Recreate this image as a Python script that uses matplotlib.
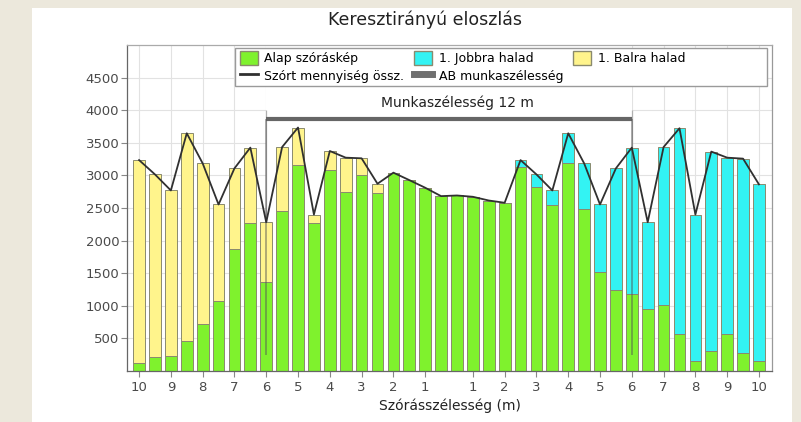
import matplotlib
matplotlib.use("Agg")
import matplotlib.pyplot as plt
from matplotlib.patches import Rectangle, Patch
from matplotlib.lines import Line2D

plt.rcParams['font.family'] = ['DejaVu Sans']

# ---- data ----
tick_labels = ['10', '9', '8', '7', '6', '5', '4', '3', '2', '1',
               '1', '2', '3', '4', '5', '6', '7', '8', '9', '10']
tick_bar_index = [0, 2, 4, 6, 8, 10, 12, 14, 16, 18,
                  21, 23, 25, 27, 29, 31, 33, 35, 37, 39]

alap = [118, 211, 235, 466, 718, 1066, 1872, 2272, 1365, 2451,
        3154, 2272, 3077, 2743, 3000, 2723, 3042, 2928, 2811, 2682,
        2692, 2672, 2615, 2580, 3134, 2820, 2543, 3185, 2488, 1512,
        1246, 1185, 949, 1015, 565, 158, 308, 565, 282, 158]
jobbra = [0, 0, 0, 0, 0, 0, 0, 0, 0, 0,
          0, 0, 0, 0, 0, 0, 0, 0, 0, 0,
          0, 0, 0, 0, 101, 195, 226, 461, 697, 1042,
          1862, 2241, 1333, 2420, 3158, 2242, 3057, 2707, 2975, 2704]
balra = [3117, 2804, 2534, 3180, 2467, 1488, 1236, 1154, 917, 984,
         580, 128, 297, 529, 262, 149, 0, 0, 0, 0,
         0, 0, 0, 0, 0, 0, 0, 0, 0, 0,
         0, 0, 0, 0, 0, 0, 0, 0, 0, 0]
ossz = [3235, 3015, 2769, 3646, 3185, 2554, 3108, 3426, 2282, 3435,
        3734, 2400, 3374, 3272, 3262, 2872, 3042, 2928, 2811, 2682,
        2692, 2672, 2615, 2580, 3235, 3015, 2769, 3646, 3185, 2554,
        3108, 3426, 2282, 3435, 3723, 2400, 3365, 3272, 3257, 2862]
y_ticks = [500, 1000, 1500, 2000, 2500, 3000, 3500, 4000, 4500]
ab_start, ab_end = 8, 31
ab_level = 3862

W, H = 801, 422
fig = plt.figure(figsize=(W / 100, H / 100), dpi=100)
fig.patch.set_facecolor('#ece8dc')
fig.add_artist(Rectangle((32 / W, 0), (792 - 32) / W, (H - 8) / H,
                         transform=fig.transFigure, facecolor='white',
                         edgecolor='none', zorder=0))

ax = fig.add_axes([127 / W, 1 - 371 / H, (772 - 127) / W, (371 - 45) / H])
ax.set_facecolor('white')

x = list(range(len(alap)))
c_green = '#7ff22d'
c_cyan = '#33f3f3'
c_yellow = '#fff48c'
edge = '#8a8a6e'
bw = 0.74

ax.set_axisbelow(True)
ax.grid(True, color='#e2e2e2', lw=0.8)
ax.axvspan(ab_start, ab_end, color='white', zorder=0.6, lw=0)
ax.vlines([ab_start, ab_end], 0, 4000, colors='#b0b0b0', lw=0.9, zorder=0.7)

ax.bar(x, alap, width=bw, color=c_green, edgecolor=edge, lw=0.7, zorder=2)
ax.bar(x, jobbra, width=bw, bottom=alap, color=c_cyan, edgecolor=edge, lw=0.7, zorder=2)
ax.bar(x, balra, width=bw, bottom=alap, color=c_yellow, edgecolor=edge, lw=0.7, zorder=2)
ax.plot(x, ossz, color='#303030', lw=1.3, zorder=4)

ax.hlines(ab_level, ab_start, ab_end, colors='#666666', lw=3, zorder=3)
ax.vlines([ab_start, ab_end], 250, ab_level, colors='#555555', lw=1.2,
          alpha=0.55, zorder=3)
ax.text((ab_start + ab_end) / 2 + 0.5, 4120, 'Munkaszélesség 12 m',
        ha='center', va='center', fontsize=10, color='#222222')

ax.set_xlim(-0.76, 39.82)
ax.set_ylim(0, 5000)
ax.set_xticks(tick_bar_index)
ax.set_xticklabels(tick_labels)
ax.set_yticks(y_ticks)
ax.tick_params(axis='both', colors='#888888', labelcolor='#4a4a4a',
               labelsize=9.5, length=4, width=0.8)
ax.tick_params(axis='y', pad=1.5)
for s in ax.spines.values():
    s.set_color('#666666')
    s.set_linewidth(0.9)
ax.spines['top'].set_color('#aaaaaa')
ax.spines['right'].set_color('#999999')

ax.set_xlabel('Szórásszélesség (m)', fontsize=10, labelpad=3, color='#222222')
fig.text(425 / W, 1 - 20 / H, 'Keresztirányú eloszlás', ha='center',
         va='center', fontsize=12.5, color='#222222')

# legend frame (drawn separately so the columns keep their natural spacing)
ax.add_patch(Rectangle((235 / W, 1 - 86 / H), (767 - 235) / W, (86 - 47.5) / H,
                       transform=fig.transFigure, facecolor='white',
                       edgecolor='#9a9a9a', lw=1.0, zorder=9, clip_on=False))
handles = [Patch(facecolor=c_green, edgecolor=edge, label='Alap szóráskép'),
           Line2D([], [], color='#303030', lw=2, label='Szórt mennyiség össz.'),
           Patch(facecolor=c_cyan, edgecolor=edge, label='1. Jobbra halad'),
           Line2D([], [], color='#707070', lw=5, label='AB munkaszélesség'),
           Patch(facecolor=c_yellow, edgecolor=edge, label='1. Balra halad')]
leg = ax.legend(handles=handles, ncol=3, loc='upper left',
                bbox_to_anchor=(237 / W, 1 - 48.5 / H),
                bbox_transform=fig.transFigure, borderaxespad=0, fontsize=9,
                frameon=False, handlelength=1.45, handleheight=1.3,
                handletextpad=0.55, labelspacing=0.3, borderpad=0.2,
                columnspacing=0.75)
leg.set_zorder(10)

fig.savefig('out.png', dpi=100, facecolor=fig.get_facecolor())
